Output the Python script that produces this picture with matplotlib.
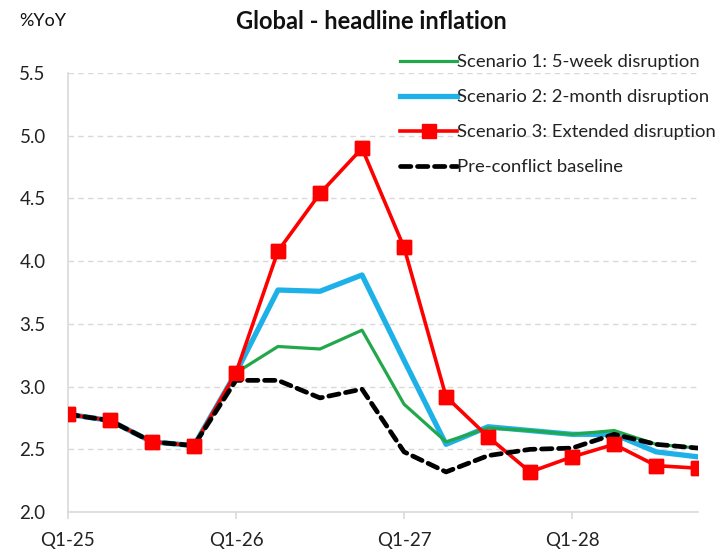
import matplotlib
matplotlib.use("Agg")
import matplotlib.pyplot as plt

quarters = ["Q1-25", "Q2-25", "Q3-25", "Q4-25", "Q1-26", "Q2-26", "Q3-26", "Q4-26",
            "Q1-27", "Q2-27", "Q3-27", "Q4-27", "Q1-28", "Q2-28", "Q3-28", "Q4-28"]
scenario1 = [2.78, 2.73, 2.56, 2.53, 3.11, 3.32, 3.30, 3.45, 2.86, 2.56, 2.67, 2.65, 2.62, 2.65, 2.54, 2.51]
scenario2 = [2.78, 2.73, 2.56, 2.53, 3.11, 3.77, 3.76, 3.89, 3.21, 2.54, 2.68, 2.65, 2.62, 2.62, 2.48, 2.44]
scenario3 = [2.78, 2.73, 2.56, 2.53, 3.11, 4.08, 4.54, 4.90, 4.11, 2.92, 2.60, 2.32, 2.44, 2.54, 2.37, 2.35]
baseline = [2.78, 2.73, 2.56, 2.53, 3.05, 3.05, 2.91, 2.98, 2.48, 2.32, 2.45, 2.50, 2.51, 2.62, 2.54, 2.51]
labels = ["Scenario 1: 5-week disruption", "Scenario 2: 2-month disruption",
          "Scenario 3: Extended disruption", "Pre-conflict baseline"]
tick_labels = ["Q1-25", "Q1-26", "Q1-27", "Q1-28"]
yticks = [2.0, 2.5, 3.0, 3.5, 4.0, 4.5, 5.0, 5.5]

plt.rcParams['font.family'] = ['Lato', 'DejaVu Sans']

fig = plt.figure(figsize=(7.22, 5.53), dpi=100)
ax = fig.add_axes([0.094, 0.074, 0.873, 0.794])

x = list(range(len(quarters)))
grey = "#d9d9d9"

l1, = ax.plot(x, scenario1, color="#22a84a", lw=2.3, zorder=3, label=labels[0])
l2, = ax.plot(x, scenario2, color="#1eb1e8", lw=3.8, zorder=2, label=labels[1])
l3, = ax.plot(x, scenario3, color="#ff0000", lw=2.6, marker="s", markersize=9.5,
              markerfacecolor="#ff0000", markeredgecolor="#ff0000", zorder=4, label=labels[2])
l4, = ax.plot(x, baseline, color="black", lw=3.4, ls=(0, (2.2, 1.4)),
              dash_capstyle="round", zorder=5, label=labels[3])
ax.plot(x, scenario3, ls="none", marker="s", markersize=9.5, color="#ff0000", zorder=6)

ax.set_xlim(0, 15)
ax.set_ylim(2.0, 5.5)
ax.set_yticks(yticks)
ax.set_yticklabels([f"{v:.1f}" for v in yticks])
ax.set_xticks([quarters.index(t) for t in tick_labels])
ax.set_xticklabels(tick_labels)

ax.grid(axis="y", color=grey, ls=(0, (4, 3)), lw=1.0, zorder=0)
for s in ["top", "right"]:
    ax.spines[s].set_visible(False)
for s in ["left", "bottom"]:
    ax.spines[s].set_color(grey)
    ax.spines[s].set_linewidth(1.2)
ax.tick_params(axis="y", length=0, pad=16, labelsize=13.5, labelcolor="#222222")
ax.tick_params(axis="x", length=5, color=grey, width=1.2, pad=9, labelsize=13.5, labelcolor="#222222")

fig.text(0.515, 0.962, "Global - headline inflation", ha="center", va="center",
         fontsize=17, fontweight="bold", color="#111111")
fig.text(0.027, 0.962, "%YoY", ha="left", va="center", fontsize=13, color="#111111")

leg = ax.legend(handles=[l1, l2, l3, l4], loc="upper left", bbox_to_anchor=(0.527, 1.043),
                frameon=False, fontsize=13.3, handlelength=3.1, handletextpad=0.0,
                labelspacing=1.03, borderaxespad=0, borderpad=0)
for t in leg.get_texts():
    t.set_color("#222222")

fig.savefig("out.png", dpi=100)
